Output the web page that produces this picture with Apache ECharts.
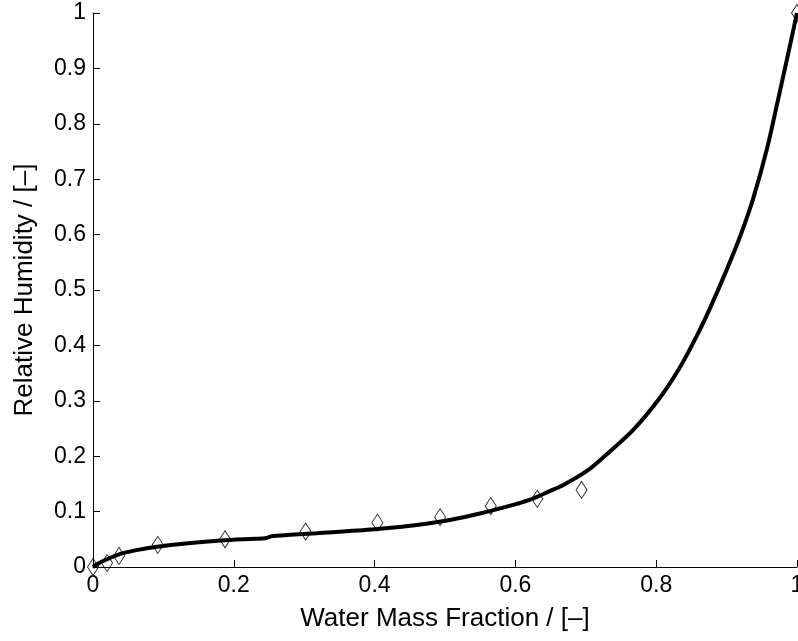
<!DOCTYPE html>
<html>
<head>
<meta charset="utf-8">
<script src="https://cdn.jsdelivr.net/npm/echarts@6/dist/echarts.min.js"></script>
<style>html,body{margin:0;padding:0;background:#fff;}#c{width:798px;height:641px;}</style>
</head>
<body>
<div id="c"></div>
<script>
var xTicks = [0, 0.2, 0.4, 0.6, 0.8, 1];
var yTicks = [0, 0.1, 0.2, 0.3, 0.4, 0.5, 0.6, 0.7, 0.8, 0.9, 1];
var measX = [0, 0.02, 0.037, 0.092, 0.1875, 0.302, 0.404, 0.493, 0.565, 0.631, 0.694, 1.0];
var measY = [0, 0.007, 0.02, 0.04, 0.05, 0.064, 0.080, 0.090, 0.110, 0.123, 0.139, 1.0];
var fitX = [0, 0.01, 0.02, 0.04, 0.06, 0.088, 0.135, 0.182, 0.23, 0.245, 0.255, 0.28, 0.318, 0.40, 0.46, 0.507, 0.554, 0.602, 0.62, 0.649, 0.668, 0.70, 0.724, 0.767, 0.805, 0.834, 0.858, 0.876, 0.898, 0.919, 0.9375, 0.957, 0.973, 0.9865, 1.0];
var fitY = [0, 0.008, 0.014, 0.024, 0.030, 0.036, 0.043, 0.048, 0.051, 0.052, 0.056, 0.058, 0.061, 0.068, 0.076, 0.085, 0.098, 0.114, 0.121, 0.137, 0.148, 0.172, 0.197, 0.247, 0.305, 0.361, 0.418, 0.466, 0.530, 0.596, 0.664, 0.753, 0.843, 0.921, 1.0];

var fitData = fitX.map(function (x, i) { return [x, fitY[i]]; });
var measData = measX.map(function (x, i) { return [x, measY[i]]; });
var font = 'Liberation Sans, Arial, Helvetica, sans-serif';

var chart = echarts.init(document.getElementById('c'), null, {renderer: 'canvas'});
chart.setOption({
  animation: false,
  backgroundColor: '#ffffff',
  grid: {left: 93, right: 1, top: 13, bottom: 74, containLabel: false, outerBoundsMode: 'none'},
  xAxis: {
    type: 'value', min: 0, max: 1, interval: 0.2,
    name: 'Water Mass Fraction / [\u2013]', nameLocation: 'middle', nameGap: 39,
    nameTextStyle: {fontFamily: font, fontSize: 26, color: '#000'},
    axisLine: {show: true, lineStyle: {color: '#000', width: 1}},
    axisTick: {show: true, inside: true, length: 7, lineStyle: {color: '#000'}},
    axisLabel: {fontFamily: font, fontSize: 23, color: '#000', margin: 7, hideOverlap: false, showMinLabel: true, showMaxLabel: true,
      formatter: function (v) { var r = Math.round(v * 10) / 10; return xTicks.indexOf(r) >= 0 ? String(r) : ''; }},
    splitLine: {show: false}
  },
  yAxis: {
    type: 'value', min: 0, max: 1, interval: 0.1,
    name: 'Relative Humidity / [\u2013]', nameLocation: 'middle', nameGap: 55,
    nameTextStyle: {fontFamily: font, fontSize: 26, color: '#000'},
    axisLine: {show: true, lineStyle: {color: '#000', width: 1}},
    axisTick: {show: true, inside: true, length: 7, lineStyle: {color: '#000'}},
    axisLabel: {fontFamily: font, fontSize: 23, color: '#000', margin: 7, hideOverlap: false, showMinLabel: true, showMaxLabel: true,
      formatter: function (v) { var r = Math.round(v * 10) / 10; return yTicks.indexOf(r) >= 0 ? String(r) : ''; }},
    splitLine: {show: false}
  },
  series: [
    {
      type: 'line', data: fitData, showSymbol: false, smooth: 0.3, clip: false,
      lineStyle: {color: '#000', width: 4}, z: 2
    },
    {
      type: 'scatter', data: measData, symbol: 'diamond', symbolSize: [11, 17], clip: false,
      itemStyle: {color: 'rgba(255,255,255,0)', borderColor: '#000', borderWidth: 1}, z: 3
    }
  ]
});
</script>
</body>
</html>
